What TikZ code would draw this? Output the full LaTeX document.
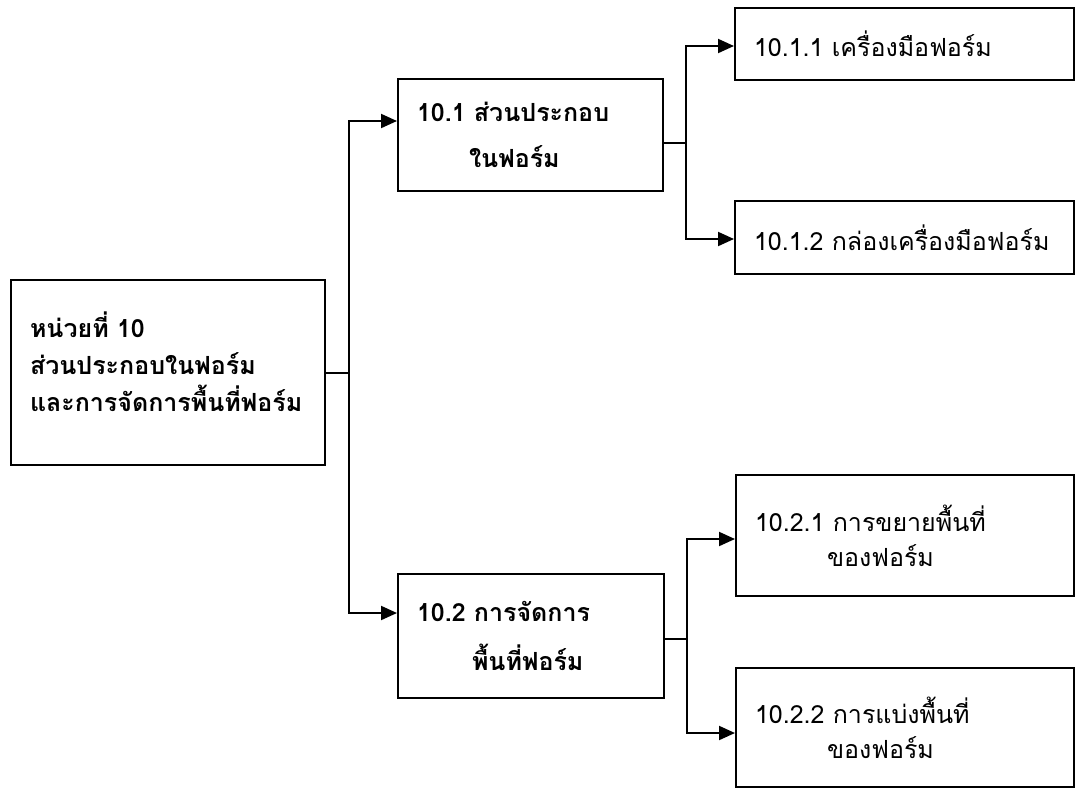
\documentclass[tikz,border=0pt]{standalone}
\usepackage{fontspec}
\newfontfamily\thaifont[Script=Thai]{Loma}
\usetikzlibrary{arrows.meta}
\newcommand\thaibold[1]{\thaifont\bfseries\fontsize{25}{#1}\selectfont}
\newcommand\thaiplain[1]{\thaifont\fontsize{25}{#1}\selectfont}
\tikzset{
  boldbox/.style={draw, line width=2pt, anchor=north west, inner xsep=19pt, inner ysep=0pt, align=left, font=\thaibold{#1}},
  plainbox/.style={draw, line width=2pt, anchor=north west, inner xsep=19pt, inner ysep=0pt, align=left, font=\thaiplain{#1}},
  link/.style={line width=2pt},
  twoway/.style={line width=2pt, line join=miter, {Triangle[length=16pt,width=14pt]}-{Triangle[length=16pt,width=14pt]}}
}

\begin{document}
\begin{tikzpicture}[x=1pt,y=-1pt]
			%%%%% START %%%%%
			\useasboundingbox (0,0) rectangle (1076,788);
			
			\node[boldbox=37pt, minimum width=314pt, minimum height=185pt, text width=276pt] (unit) at (10,279) {หน่วยที่ 10\\ส่วนประกอบในฟอร์ม\\และการจัดการพื้นที่ฟอร์ม\vspace*{22pt}};
			
			\node[boldbox=46pt, minimum width=265pt, minimum height=112pt, text width=227pt] (part1) at (397,78) {10.1 ส่วนประกอบ\\\hspace*{52pt}ในฟอร์ม};
			\node[boldbox=49pt, minimum width=266pt, minimum height=124pt, text width=228pt] (part2) at (397,573) {10.2 การจัดการ\\\hspace*{55pt}พื้นที่ฟอร์ม};
			
			\node[plainbox=35pt, minimum width=339pt, minimum height=72pt, text width=301pt] (tools) at (734,7) {10.1.1 เครื่องมือฟอร์ม};
			\node[plainbox=35pt, minimum width=339pt, minimum height=73pt, text width=301pt] (toolbox) at (734,200) {10.1.2 กล่องเครื่องมือฟอร์ม};
			\node[plainbox=35pt, minimum width=338pt, minimum height=121pt, text width=300pt] (expand) at (735,474) {10.2.1 การขยายพื้นที่\\\hspace*{72pt}ของฟอร์ม};
			\node[plainbox=35pt, minimum width=338pt, minimum height=119pt, text width=300pt] (divide) at (735,667) {10.2.2 การแบ่งพื้นที่\\\hspace*{72pt}ของฟอร์ม};
			
			% trunk
			\coordinate (trunktop) at (349,121);
			\coordinate (trunkbot) at (349,613);
			\draw[link] (unit.east) -- (unit.east -| trunktop);
			\draw[twoway] (trunktop -| part1.west) -- (trunktop) -- (trunkbot) -- (trunkbot -| part2.west);
			
			% first fork
			\coordinate (forka) at (686,143);
			\coordinate (forkatop) at (686,46);
			\coordinate (forkabot) at (686,239);
			\draw[link] (forka -| part1.east) -- (forka);
			\draw[twoway] (forkatop -| tools.west) -- (forkatop) -- (forkabot) -- (forkabot -| toolbox.west);
			
			% second fork
			\coordinate (forkb) at (687,639);
			\coordinate (forkbtop) at (687,539);
			\coordinate (forkbbot) at (687,733);
			\draw[link] (forkb -| part2.east) -- (forkb);
			\draw[twoway] (forkbtop -| expand.west) -- (forkbtop) -- (forkbbot) -- (forkbbot -| divide.west);
			
			%%%%% END %%%%%
\end{tikzpicture}
\end{document}
